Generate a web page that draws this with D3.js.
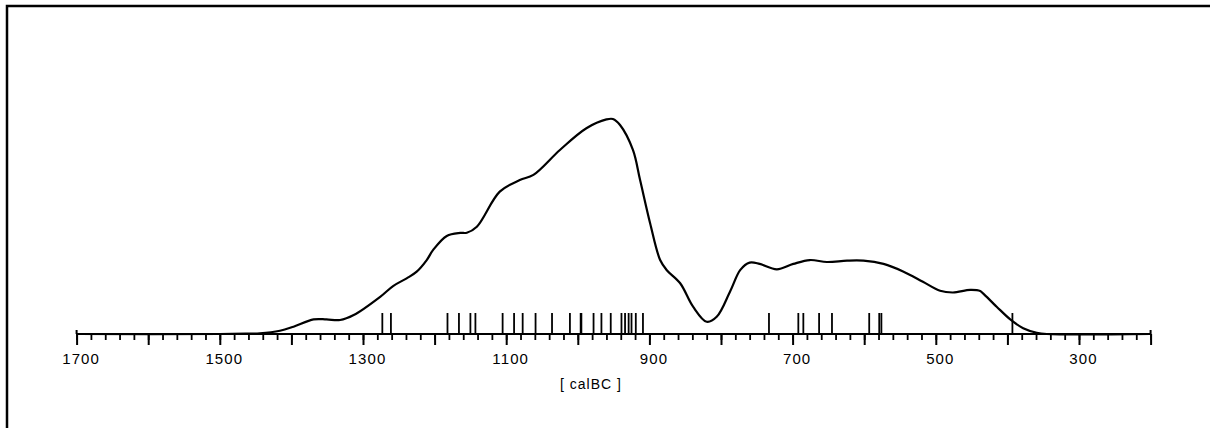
<!DOCTYPE html>
<html>
<head>
<meta charset="utf-8">
<script src="https://cdn.jsdelivr.net/npm/d3@7"></script>
<style>
  body { margin: 0; background: #fff; }
  svg { display: block; }
  .tick text { font-family: "Liberation Sans", Arial, sans-serif; }
</style>
</head>
<body>
<div id="chart"></div>
<script>
// summed probability curve (year cal BC, relative density)
const curveYears = [1700, 1500, 1458, 1444, 1416, 1397, 1369, 1351, 1332, 1313, 1276, 1258, 1239, 1225,
  1211, 1202, 1183, 1164, 1155, 1141, 1109, 1081, 1062, 1025, 988, 960, 951, 941, 923, 913, 899,
  885, 876, 857, 839, 820, 806, 787, 773, 760, 746, 722, 699, 676, 652, 624, 601, 573, 545, 518,
  494, 476, 452, 438, 434, 415, 396, 378, 359, 345, 200];
const curveValues = [0, 0, 0.002, 0.003, 0.015, 0.034, 0.068, 0.068, 0.065, 0.088, 0.173, 0.223, 0.259, 0.29,
  0.344, 0.391, 0.456, 0.47, 0.471, 0.499, 0.662, 0.716, 0.74, 0.856, 0.957, 0.998, 1.0, 0.972, 0.856, 0.716, 0.515,
  0.344, 0.298, 0.236, 0.127, 0.057, 0.08, 0.2, 0.298, 0.332, 0.326, 0.301, 0.326, 0.344, 0.335, 0.341, 0.341, 0.326, 0.29, 0.243,
  0.201, 0.193, 0.205, 0.2, 0.189, 0.127, 0.068, 0.027, 0.006, 0, 0];

// individual dates (rug marks along the axis)
const dates = [1273, 1261, 1182, 1166, 1150, 1143, 1105, 1089, 1077, 1059, 1036, 1011, 996, 995,
  978, 967, 954, 939, 934, 929, 925, 919, 909, 733, 692, 685, 663, 645, 593, 579, 576, 393];

const labelTicks = [1700, 1500, 1300, 1100, 900, 700, 500, 300];
const axisTitle = "[ calBC ]";

const width = 1210, height = 428;
const baseY = 334;

const svg = d3.select("#chart").append("svg")
    .attr("width", width)
    .attr("height", height);

// frame
svg.append("rect")
    .attr("x", 7).attr("y", 6)
    .attr("width", width).attr("height", height)
    .attr("fill", "none")
    .attr("stroke", "#000")
    .attr("stroke-width", 2.5);

let x = d3.scaleLinear()
    .domain([1700, 200])
    .range([76.6, 1150.6]);

let y = d3.scaleLinear()
    .domain([0, 1])
    .range([baseY, 119]);

// minor ticks every 20 years
svg.append("g")
    .attr("transform", `translate(0, ${baseY})`)
    .call(d3.axisBottom(x).tickValues(d3.range(1700, 199, -20)).tickSize(6).tickSizeOuter(0).tickFormat(""))
    .call(g => g.select(".domain").remove())
    .call(g => g.selectAll("line").attr("stroke-width", 1.8));

// bigger ticks every 100 years
svg.append("g")
    .attr("transform", `translate(0, ${baseY})`)
    .call(d3.axisBottom(x).tickValues(d3.range(1700, 199, -100)).tickSize(11).tickSizeOuter(0).tickFormat(""))
    .call(g => g.select(".domain").remove())
    .call(g => g.selectAll("line").attr("stroke-width", 2));

// labels every 200
svg.append("g")
    .attr("transform", `translate(0, ${baseY})`)
    .call(d3.axisBottom(x).tickValues(labelTicks).tickSize(0).tickPadding(19).tickFormat(d3.format("d")))
    .call(g => g.select(".domain").remove())
    .call(g => g.selectAll("text")
        .attr("dx", 4)
        .style("font-size", "15px")
        .style("letter-spacing", "1.1px")
        .attr("fill", "#000"));

// axis baseline
svg.append("line")
    .attr("x1", x(1700)).attr("x2", x(200))
    .attr("y1", baseY).attr("y2", baseY)
    .attr("stroke", "#000")
    .attr("stroke-width", 2.2);

// end ticks poke a little above the axis
svg.selectAll(".endtick").data([1700, 200]).enter()
    .append("line")
    .attr("x1", d => x(d)).attr("x2", d => x(d))
    .attr("y1", baseY - 4).attr("y2", baseY)
    .attr("stroke", "#000")
    .attr("stroke-width", 2);

svg.append("text")
    .attr("x", 591).attr("y", 389)
    .attr("text-anchor", "middle")
    .style("font-family", "Liberation Sans, Arial, sans-serif")
    .style("font-size", "14px")
    .style("letter-spacing", "1px")
    .text(axisTitle);

// rug
svg.selectAll(".rug").data(dates).enter()
    .append("line")
    .attr("class", "rug")
    .attr("x1", d => x(d)).attr("x2", d => x(d))
    .attr("y1", baseY - 21).attr("y2", baseY)
    .attr("stroke", "#000")
    .attr("stroke-width", 1.8);

// density curve
const pts = curveYears.map((yr, i) => [yr, curveValues[i]]);
const line = d3.line()
    .x(d => x(d[0]))
    .y(d => y(d[1]))
    .curve(d3.curveCatmullRom.alpha(0.5));

svg.append("path")
    .datum(pts)
    .attr("d", line)
    .attr("fill", "none")
    .attr("stroke", "#000")
    .attr("stroke-width", 2.2);
</script>
</body>
</html>
